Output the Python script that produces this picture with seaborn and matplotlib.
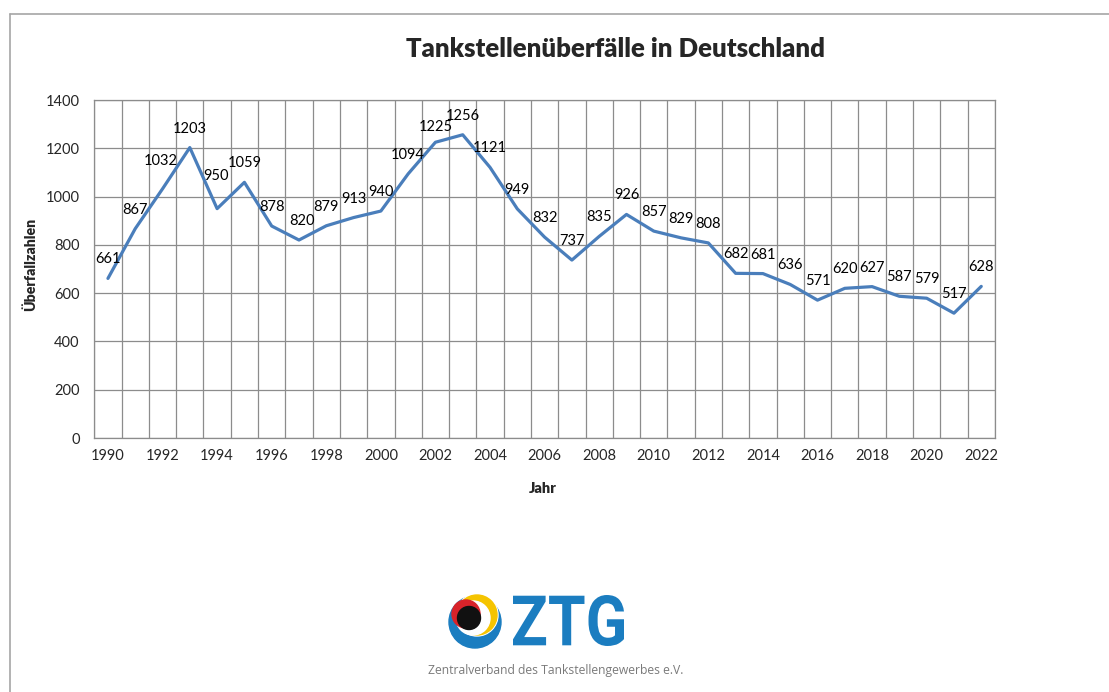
import numpy as np
import matplotlib
matplotlib.use("Agg")
import matplotlib.pyplot as plt
import seaborn as sns
from matplotlib.patches import Circle, PathPatch
from matplotlib.textpath import TextPath
from matplotlib.font_manager import FontProperties
from matplotlib.transforms import Affine2D

# data
years = list(range(1990, 2023))
values = [661, 867, 1032, 1203, 950, 1059, 878, 820, 879, 913, 940,
          1094, 1225, 1256, 1121, 949, 832, 737, 835, 926, 857,
          829, 808, 682, 681, 636, 571, 620, 627, 587, 579, 517, 628]
tick_years = list(range(1990, 2023, 2))
y_ticks = list(range(0, 1401, 200))

title = "Tankstellenüberfälle in Deutschland"
x_title = "Jahr"
y_title = "Überfallzahlen"

sns.set_style("white")
plt.rcParams['font.family'] = ['Lato', 'DejaVu Sans']

LINE = "#4a7ebb"
GRID = "#8c8c8c"
W, H = 1109, 692

fig = plt.figure(figsize=(W / 100, H / 100), dpi=100)
fig.patch.set_facecolor("white")

# plot area in pixel terms
left, right, top, bottom = 94.3, 994.9, 100, 438
ax = fig.add_axes([left / W, 1 - bottom / H, (right - left) / W, (bottom - top) / H])

sns.lineplot(x=years, y=values, ax=ax, color=LINE, linewidth=2.3, zorder=3)

ax.set_xlim(1989.5, 2022.5)
ax.set_ylim(0, 1400)
ax.set_xticks(tick_years)
ax.set_xticks(np.arange(1989.5, 2023, 1), minor=True)
ax.set_yticks(y_ticks)
ax.grid(which="minor", axis="x", color=GRID, linewidth=0.9)
ax.grid(which="major", axis="y", color=GRID, linewidth=0.9)
ax.grid(which="major", axis="x", visible=False)
ax.tick_params(axis="x", which="both", length=0, pad=8, labelsize=10.5)
ax.tick_params(axis="y", length=3.6, width=0.9, color=GRID, pad=7, labelsize=10.5)
for s in ax.spines.values():
    s.set_color(GRID)
    s.set_linewidth(0.9)
ax.set_xlabel("")
ax.set_ylabel("")

# data labels above points (a few nudged like in the original)
nudge = {1992: (-2, 9), 1994: (-1, 14), 2002: (0, -4), 1997: (3, 0)}
for yr, v in zip(years, values):
    dx, dy = nudge.get(yr, (0, 0))
    ax.annotate(str(v), (yr, v), xytext=(dx, 15.0 + dy), textcoords="offset pixels",
                ha="center", va="baseline", fontsize=10.5, color="black", zorder=4)

# overlay in pixel coordinates for titles, border and logo
ov = fig.add_axes([0, 0, 1, 1])
ov.set_xlim(0, W)
ov.set_ylim(H, 0)
ov.axis("off")
ov.patch.set_alpha(0)

ov.plot([10, W], [14, 14], color="#a6a6a6", linewidth=1.2)
ov.plot([10, 10], [14, H], color="#a6a6a6", linewidth=1.2)

ov.text(616, 57, title, ha="center", va="baseline", fontsize=18.5, fontweight="heavy")
ov.text(543, 493, x_title, ha="center", va="baseline", fontsize=10.5, fontweight="heavy")
ov.text(30, 264, y_title, ha="center", va="center", rotation=90, fontsize=10.2, fontweight="heavy")

# ZTG logo
BLUE = "#1b7dc0"
for (cx, cy, r, c) in [(475, 622, 26, BLUE), (477, 615, 21, "white"),
                       (477, 615, 20, "#f5c400"), (473, 618, 17, "white"),
                       (466, 614, 14, "#d8232a"), (469, 618, 11.5, "#111111")]:
    ov.add_patch(Circle((cx, cy), r, color=c, zorder=5))

tp = TextPath((0, 0), "ZTG", size=1, prop=FontProperties(family="Roboto", weight="bold"))
bb = tp.get_extents()
sx = (624 - 513) / bb.width
sy = (646 - 595) / bb.height
tr = Affine2D().translate(-bb.x0, -bb.y0).scale(sx, -sy).translate(513, 646)
ov.add_patch(PathPatch(tr.transform_path(tp), color=BLUE, lw=0, zorder=5))

ov.text(556, 674, "Zentralverband des Tankstellengewerbes e.V.", ha="center", va="baseline",
        fontsize=8.7, color="#7a7a7a", family=["Open Sans", "DejaVu Sans"])

fig.savefig("out.png", dpi=100)
